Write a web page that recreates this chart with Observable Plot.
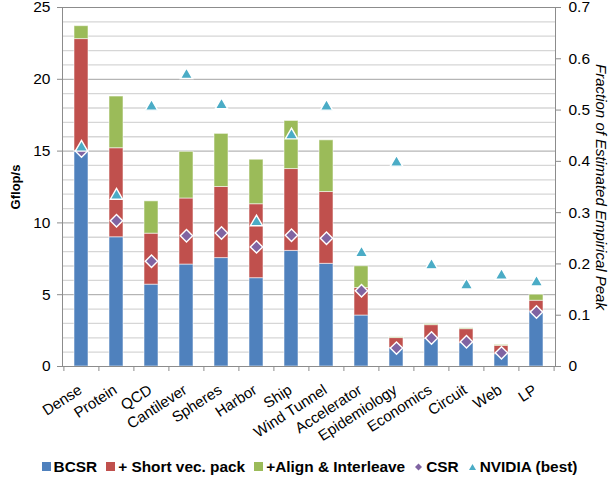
<!DOCTYPE html>
<html>
<head>
<meta charset="utf-8">
<script src="https://cdn.jsdelivr.net/npm/d3@7"></script>
<script src="https://cdn.jsdelivr.net/npm/@observablehq/plot@0.6"></script>
<style>
  html, body { margin: 0; padding: 0; background: white; }
  body { width: 613px; height: 486px; overflow: hidden; font-family: "Liberation Sans", Arial, Helvetica, sans-serif; }
  #chart svg { display: block; }
  #legend { display: flex; justify-content: center; align-items: center; margin-top: 13px; font-weight: bold; font-size: 15.4px; color: #000; white-space: nowrap; padding-left: 6px; }
  .item { display: flex; align-items: center; margin: 0 4.5px; }
  .sw { display: inline-block; width: 9px; height: 9px; margin-right: 3px; position: relative; top: -1px; }
</style>
</head>
<body>
<div id="chart"></div>
<div id="legend"></div>
<script>
const categories = ["Dense","Protein","QCD","Cantilever","Spheres","Harbor","Ship","Wind Tunnel","Accelerator","Epidemiology","Economics","Circuit","Web","LP"];
// cumulative bar heights (Gflop/s)
const bcsr        = [15.0, 9.0, 5.7, 7.1, 7.55, 6.15, 8.05, 7.15, 3.55, 1.28, 1.93, 1.63, 0.86, 3.84];
const shortVec    = [22.8, 15.2, 9.25, 11.7, 12.5, 11.3, 13.75, 12.15, 5.47, 1.98, 2.88, 2.6, 1.44, 4.58];
const alignInter  = [23.7, 18.8, 11.5, 14.95, 16.2, 14.4, 17.1, 15.75, 6.98, 2.03, 2.95, 2.66, 1.5, 5.0];
// markers (Gflop/s)
const csr         = [15.0, 10.15, 7.33, 9.1, 9.3, 8.33, 9.14, 8.93, 5.28, 1.28, 1.98, 1.72, 0.95, 3.79];
const nvidia      = [15.25, 11.9, 18.1, 20.3, 18.2, 10.05, 16.1, 18.1, 7.9, 14.2, 7.05, 5.65, 6.33, 5.86];

const seriesNames = ["BCSR", "+ Short vec. pack", "+Align & Interleave", "CSR", "NVIDIA (best)"];
const colors = ["#4f81bd", "#c0504d", "#9bbb59", "#8064a2", "#4bacc6"];

const yMajor = [0, 5, 10, 15, 20, 25];
const yMinor = d3.range(0, 26).filter(v => v % 5 !== 0);
const fracTicks = [0, 0.1, 0.2, 0.3, 0.4, 0.5, 0.6, 0.7];
const PEAK = 25 / 0.7; // Gflop/s corresponding to fraction 1

const segments = [];
categories.forEach((c, i) => {
  segments.push({cat: c, s: 0, y1: 0, y2: bcsr[i]});
  segments.push({cat: c, s: 1, y1: bcsr[i], y2: shortVec[i]});
  segments.push({cat: c, s: 2, y1: shortVec[i], y2: alignInter[i]});
});
const csrData = categories.map((c, i) => ({cat: c, v: csr[i]}));
const nvData = categories.map((c, i) => ({cat: c, v: nvidia[i]}));

const W = 613, H = 445, mL = 62, mR = 58;
const step = (W - mL - mR) / categories.length;
const FONT = '"Liberation Sans", Arial, Helvetica, sans-serif';

const chart = Plot.plot({
  width: W, height: H,
  marginTop: 7, marginBottom: 79, marginLeft: mL, marginRight: mR,
  x: {domain: categories, paddingInner: 0.6, paddingOuter: 0.3, axis: null},
  y: {domain: [0, 25], axis: null},
  style: {fontFamily: FONT, fontSize: "15px", color: "#000", background: "white"},
  marks: [
    Plot.ruleY(yMinor, {stroke: "#d6d6d6", strokeWidth: 1.3}),
    Plot.ruleY(yMajor, {stroke: "#a3a3a3", strokeWidth: 1}),
    Plot.barY(segments, {x: "cat", y1: "y1", y2: "y2", fill: d => colors[d.s], stroke: "white", strokeOpacity: 0.55, strokeWidth: 1}),
    Plot.frame({stroke: "#8c8c8c"}),
    Plot.dot(csrData, {x: "cat", y: "v", symbol: "diamond2", r: 5.6, fill: colors[3], stroke: "white", strokeWidth: 1.4, fillOpacity: 1}),
    Plot.dot(nvData, {x: "cat", y: "v", symbol: "triangle", r: 4.6, fill: colors[4], stroke: "white", strokeWidth: 1.4, fillOpacity: 1}),
    Plot.axisY({ticks: yMajor, tickSize: 5, tickPadding: 7, label: null, stroke: "#8c8c8c", fontSize: 15.5}),
    Plot.axisY({anchor: "right", ticks: fracTicks.map(f => f * PEAK), tickFormat: v => d3.format(".1~f")(v / PEAK), tickSize: 5, tickPadding: 8, label: null, stroke: "#8c8c8c", fontSize: 15.5}),
    Plot.axisX({tickSize: 5, text: null, dx: -step / 2, stroke: "#8c8c8c", label: null}),
    Plot.axisX(["LP"], {tickSize: 5, text: null, dx: step / 2, stroke: "#8c8c8c", label: null}),
    Plot.text(categories, {x: d => d, frameAnchor: "bottom", dx: 1.5, dy: 26, rotate: -33, textAnchor: "end", lineAnchor: "bottom", fontSize: 15, fill: "#000"}),
    Plot.text(["Gflop/s"], {frameAnchor: "left", dx: -47, rotate: -90, textAnchor: "middle", fontWeight: "bold", fontSize: 13, fill: "#000"}),
    Plot.text(["Fraction of Estimated Empirical Peak"], {frameAnchor: "right", dx: 45, rotate: 90, textAnchor: "middle", fontStyle: "italic", fontSize: 15, fill: "#000"})
  ]
});
document.getElementById("chart").appendChild(chart);

// legend
const legend = document.getElementById("legend");
const swatchSvg = (i) => {
  if (i < 3) return `<span class="sw" style="background:${colors[i]}"></span>`;
  if (i === 3) return `<svg width="9" height="10" style="margin-right:3px"><path d="M4.5,1.5L8,5L4.5,8.5L1,5Z" fill="${colors[3]}"/></svg>`;
  return `<svg width="9" height="10" style="margin-right:3px"><path d="M4.5,2L8,8L1,8Z" fill="${colors[4]}"/></svg>`;
};
seriesNames.forEach((n, i) => {
  const d = document.createElement("span");
  d.className = "item";
  d.innerHTML = swatchSvg(i) + `<span>${n.replace(/&/g, "&amp;")}</span>`;
  legend.appendChild(d);
});
</script>
</body>
</html>
